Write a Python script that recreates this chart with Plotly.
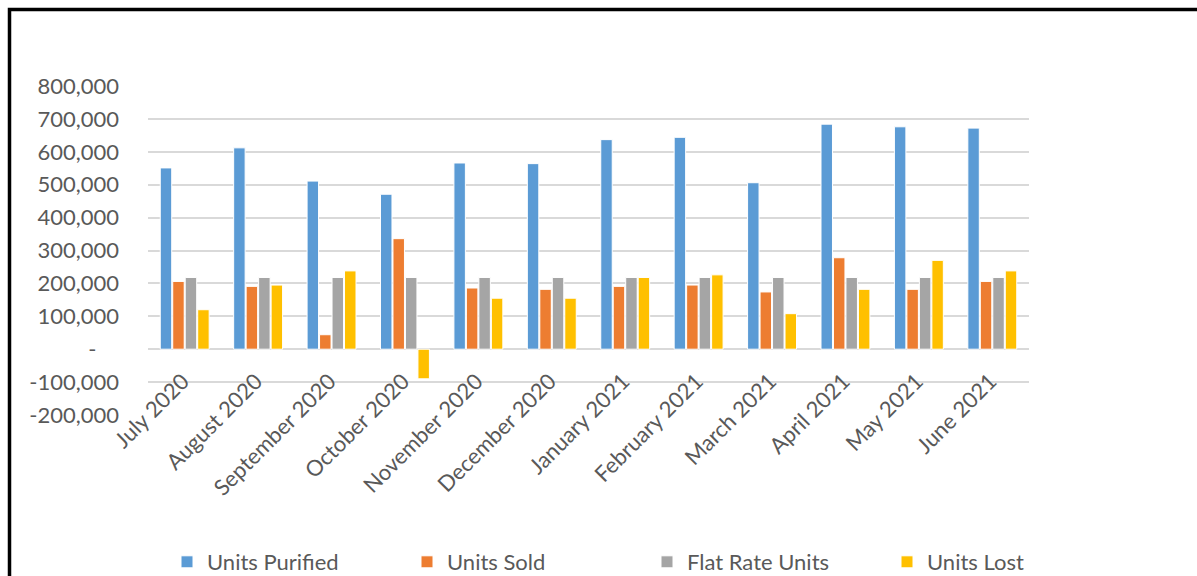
import plotly.graph_objects as go

months = ["July 2020", "August 2020", "September 2020", "October 2020", "November 2020",
          "December 2020", "January 2021", "February 2021", "March 2021", "April 2021",
          "May 2021", "June 2021"]
units_purified = [551000, 612000, 511000, 471000, 566000, 564000, 637000, 644000, 506000, 684000, 676000, 672000]
units_sold = [206000, 191000, 44000, 336000, 186000, 182000, 191000, 195000, 174000, 278000, 182000, 206000]
flat_rate_units = [218000] * 12
units_lost = [120000, 195000, 238000, -90000, 155000, 155000, 218000, 226000, 108000, 182000, 270000, 238000]

y_tickvals = [-200000, -100000, 0, 100000, 200000, 300000, 400000, 500000, 600000, 700000, 800000]
y_ticktext = ["-200,000", "-100,000", "-    ", "100,000", "200,000", "300,000", "400,000",
              "500,000", "600,000", "700,000", "800,000"]

series = [
    ("Units Purified", units_purified, "#5B9BD5"),
    ("Units Sold", units_sold, "#ED7D31"),
    ("Flat Rate Units", flat_rate_units, "#A5A5A5"),
    ("Units Lost", units_lost, "#FFC000"),
]

FONT = "Lato"
GRAY = "#595959"
FS = 22

fig = go.Figure()
for name, vals, color in series:
    fig.add_trace(go.Bar(
        x=months, y=vals, name=name,
        marker=dict(color=color, line=dict(color="white", width=1)),
    ))

W, H = 1197, 576

def px_x(p):
    return p / W

def px_y(p):
    return (H - p) / H

y_dom = [px_y(415), px_y(86)]
x_dom = [px_x(148), px_x(1029)]
zero_pos = y_dom[0] + 0.2 * (y_dom[1] - y_dom[0])

fig.update_layout(
    width=W, height=H,
    margin=dict(l=0, r=0, t=0, b=0, pad=0, autoexpand=False),
    paper_bgcolor="white", plot_bgcolor="white",
    barmode="group", bargap=0.32, bargroupgap=0.08,
    font=dict(family=FONT, size=FS, color=GRAY),
    xaxis=dict(
        domain=x_dom, anchor="free", position=zero_pos, tickangle=-45, automargin=False,
        showgrid=False, showline=False, ticks="", zeroline=False,
        ticklabelstandoff=14, ticklabelshift=-2,
        tickfont=dict(family=FONT, size=FS, color=GRAY),
    ),
    yaxis=dict(
        domain=y_dom,
        range=[-200000, 800000], tickvals=y_tickvals, ticktext=y_ticktext,
        showgrid=True, gridcolor="#D9D9D9", gridwidth=1.6, automargin=False,
        zeroline=False, showline=False, ticks="",
        ticklabelstandoff=28,
        tickfont=dict(family=FONT, size=FS, color=GRAY),
    ),
    legend=dict(
        orientation="h", x=px_x(167), xanchor="left", y=px_y(562), yanchor="middle",
        entrywidth=195, entrywidthmode="pixels", itemwidth=30,
        font=dict(family=FONT, size=FS, color=GRAY),
        bgcolor="rgba(0,0,0,0)",
    ),
    showlegend=True,
)

fig.add_shape(
    type="rect", xref="paper", yref="paper",
    x0=px_x(9.5), x1=px_x(1300), y0=px_y(700), y1=px_y(9.5),
    line=dict(color="black", width=3.5), fillcolor="rgba(0,0,0,0)",
    layer="above",
)

fig.write_html("out.html")
